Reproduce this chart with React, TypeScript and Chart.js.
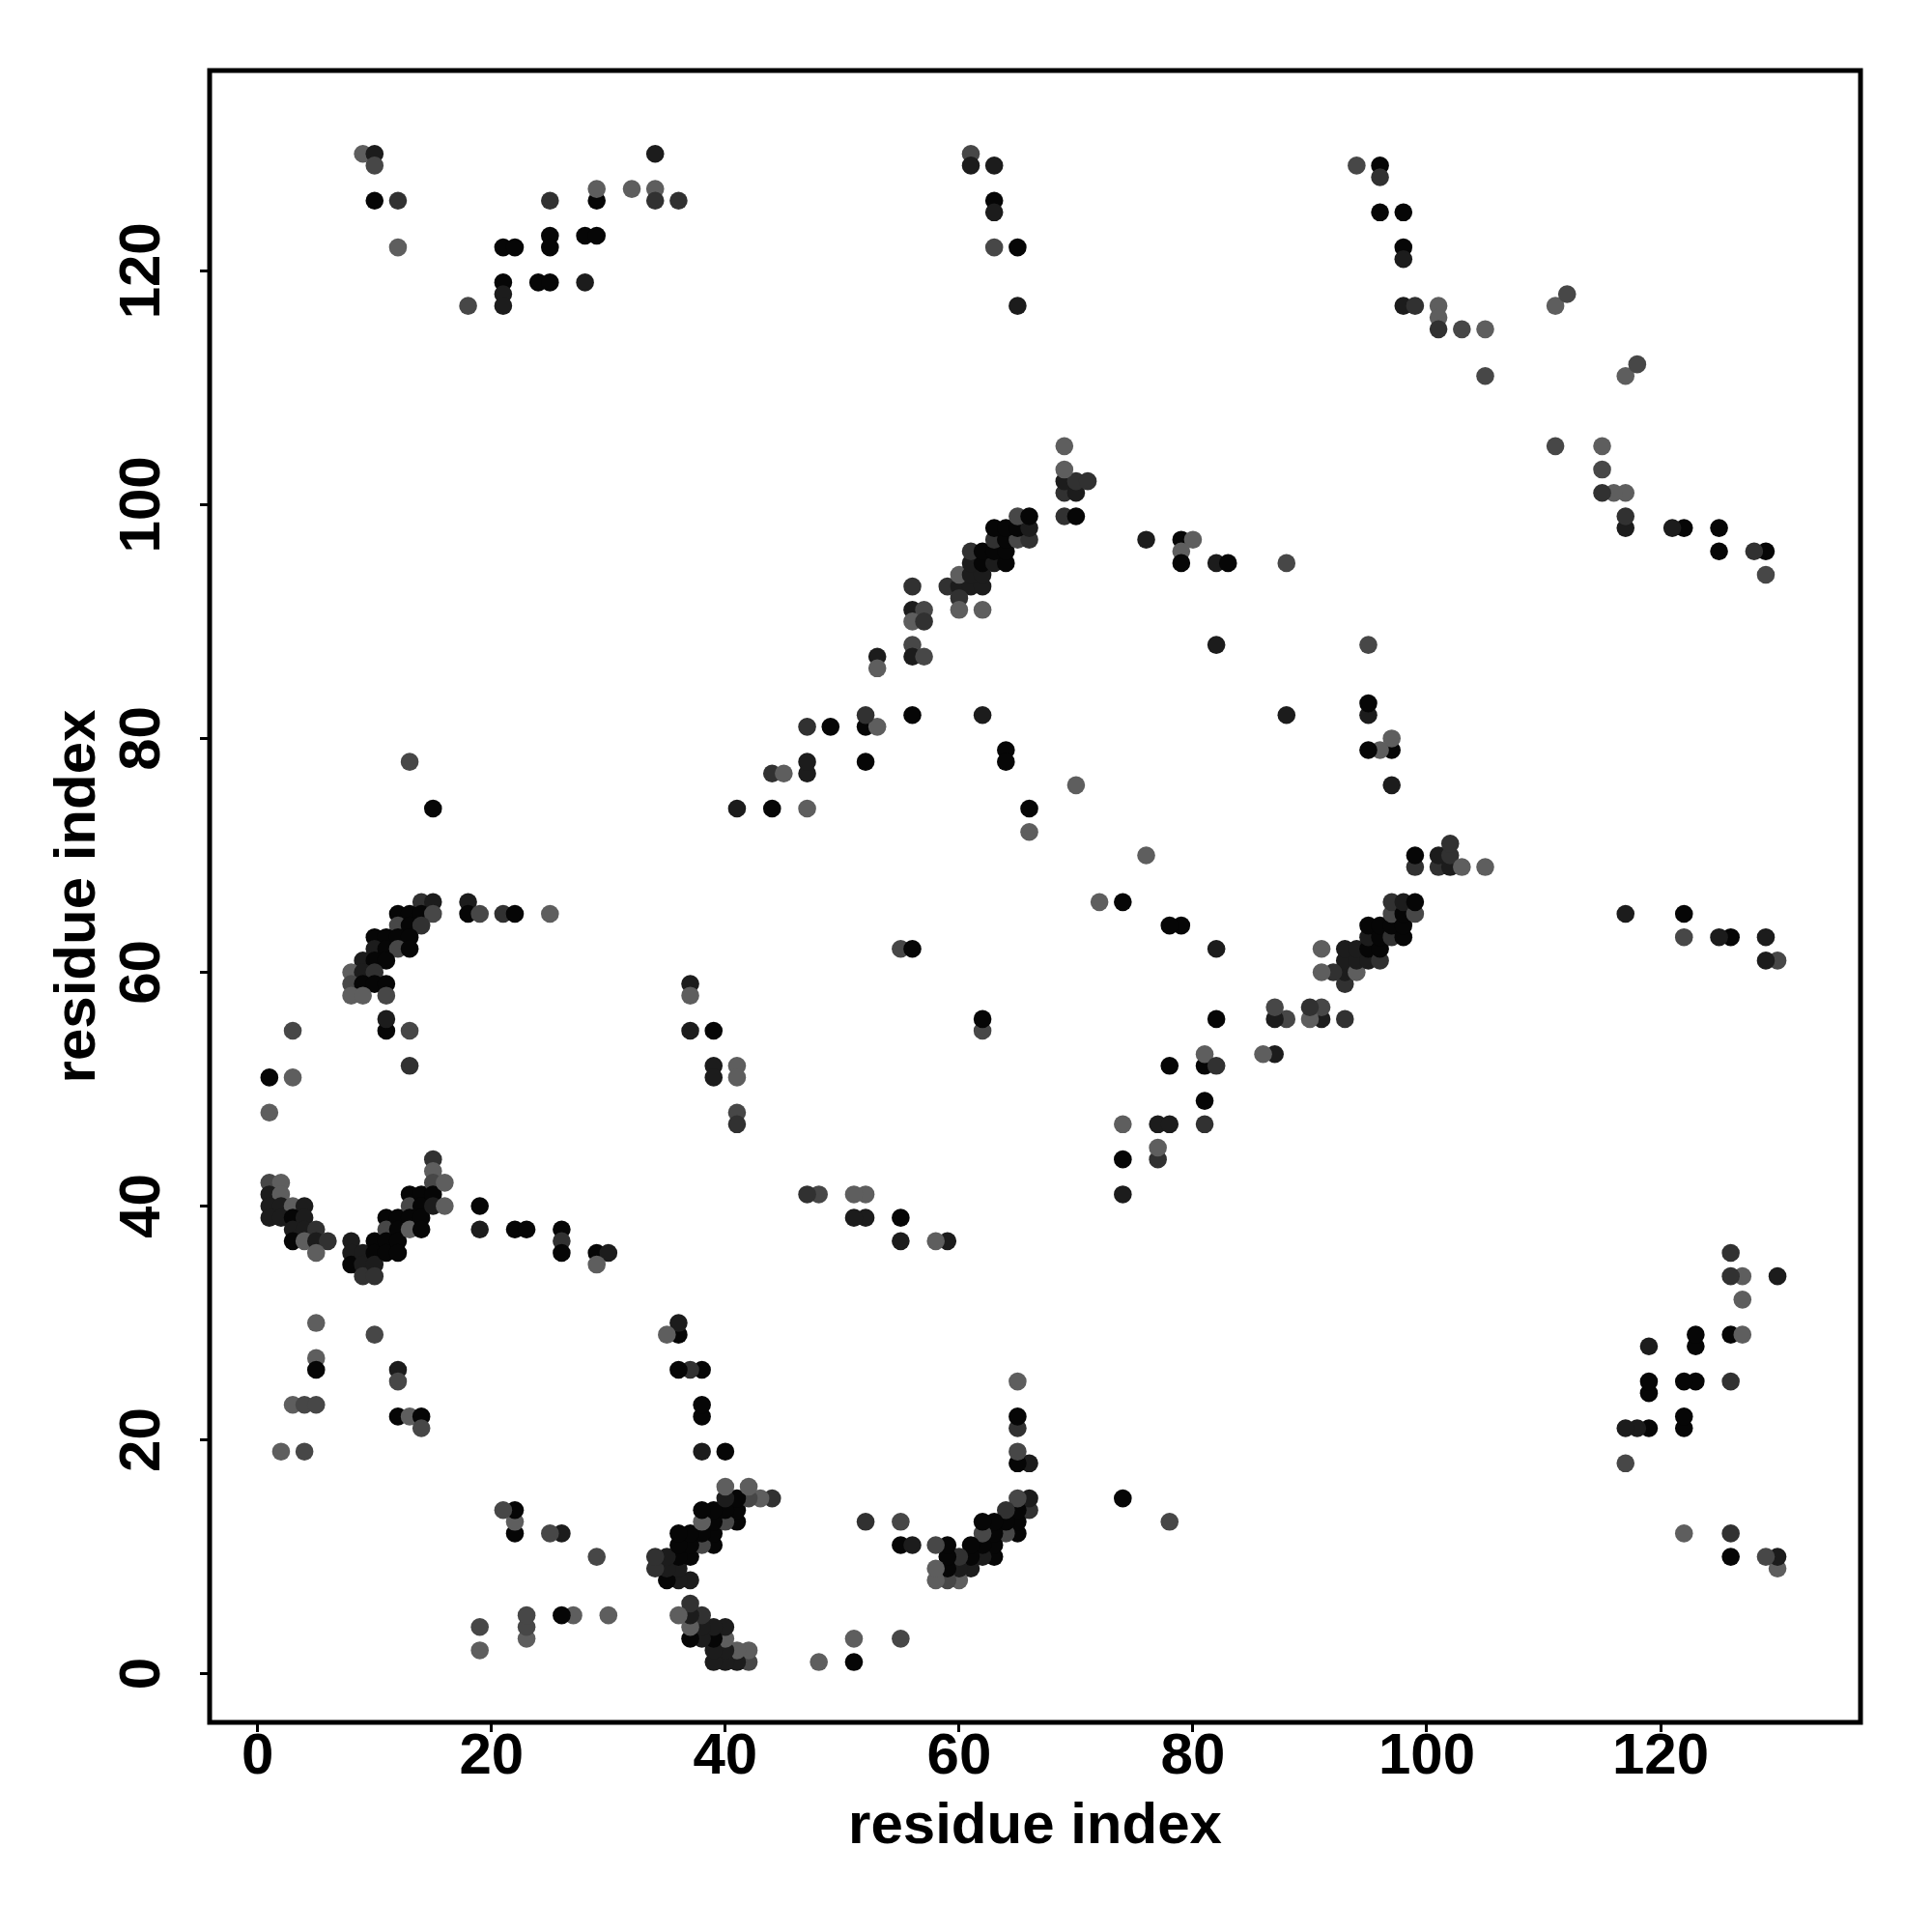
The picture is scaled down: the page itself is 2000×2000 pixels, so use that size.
import React, { useEffect, useRef } from "react";
import { Chart, registerables } from "chart.js";

Chart.register(...registerables);

// grey levels of the points (0 = darkest)
const shades = ["#060606", "#1c1c1c", "#313131", "#474747", "#5e5e5e"];

const axisTicks = [0, 20, 40, 60, 80, 100, 120];

// contacts [residue i, residue j, grey level]; the map is symmetric (j,i) too
const topLeftContacts = [
  [9, 130, 4], [10, 130, 1], [10, 129, 3], [10, 126, 0], [12, 126, 2], [12, 122, 4],
  [18, 117, 3], [21, 122, 0], [22, 122, 0], [21, 119, 0], [21, 118, 1], [21, 117, 1],
  [24, 119, 0], [25, 119, 0], [25, 126, 2], [25, 123, 0], [25, 122, 0], [28, 119, 1],
  [28, 123, 0], [29, 123, 0], [29, 126, 0], [29, 127, 4], [32, 127, 4], [34, 130, 1],
  [34, 127, 4], [34, 126, 2], [36, 126, 2],
];

const midTopContacts = [
  [61, 130, 3], [61, 129, 1], [63, 129, 1], [63, 126, 0], [63, 125, 1], [63, 122, 3],
  [65, 122, 0], [65, 117, 1],
];

const rightTopContacts = [
  [94, 129, 3], [96, 129, 0], [96, 128, 2], [96, 125, 0], [98, 125, 0], [98, 122, 0],
  [98, 121, 1], [98, 117, 1], [99, 117, 2], [101, 117, 4], [101, 116, 4], [101, 115, 2],
  [103, 115, 3], [105, 115, 4], [105, 111, 3], [111, 117, 4], [112, 118, 3],
];

const helixAContacts = [
  [13, 78, 3], [15, 74, 0], [3, 55, 3], [11, 55, 0], [11, 56, 1], [13, 55, 3], [13, 52, 2],
  [1, 51, 0], [3, 51, 4], [1, 48, 4],
  [14, 66, 2], [15, 66, 1], [18, 66, 1], [12, 65, 0], [13, 65, 0], [14, 65, 0], [15, 65, 3],
  [18, 65, 0], [19, 65, 3], [21, 65, 2], [22, 65, 0], [25, 65, 4], [12, 64, 3], [13, 64, 0],
  [14, 64, 2], [10, 63, 0], [11, 63, 0], [12, 63, 0], [13, 63, 0], [10, 62, 1], [11, 62, 0],
  [12, 62, 3], [13, 62, 0], [9, 61, 1], [10, 61, 0], [11, 61, 0], [8, 60, 4], [9, 60, 1],
  [10, 60, 2], [8, 59, 3], [9, 59, 0], [10, 59, 0], [11, 59, 0], [8, 58, 4], [9, 58, 4],
  [11, 58, 3],
];

const helixBContacts = [
  [1, 42, 3], [2, 42, 4], [1, 41, 1], [2, 41, 4], [1, 40, 1], [2, 40, 1], [3, 40, 4],
  [4, 40, 1], [1, 39, 1], [2, 39, 1], [3, 39, 0], [4, 39, 1], [3, 38, 1], [4, 38, 1],
  [5, 38, 2], [3, 37, 0], [4, 37, 4], [5, 37, 1], [6, 37, 2], [5, 36, 4],
  [8, 37, 1], [8, 36, 1], [8, 35, 0], [9, 36, 1], [9, 35, 1], [9, 34, 2], [10, 37, 0],
  [10, 36, 0], [10, 35, 1], [10, 34, 2], [11, 39, 0], [11, 38, 3], [11, 37, 0], [11, 36, 0],
  [12, 39, 0], [12, 38, 0], [12, 37, 0], [12, 36, 0], [13, 41, 0], [13, 40, 3], [13, 39, 0],
  [13, 38, 4], [14, 41, 0], [14, 40, 0], [14, 39, 0], [14, 38, 0], [15, 44, 2], [15, 43, 4],
  [15, 42, 3], [15, 41, 0], [15, 40, 1], [16, 42, 4], [16, 40, 4],
  [19, 40, 0], [19, 38, 1], [22, 38, 0], [23, 38, 0], [26, 38, 0], [26, 37, 2], [26, 36, 0],
  [29, 36, 0], [30, 36, 1], [29, 35, 4],
];

const strandContacts = [
  [37, 59, 1], [37, 58, 4], [37, 55, 1], [39, 55, 0], [39, 52, 1], [39, 51, 1],
  [41, 52, 4], [41, 51, 4], [41, 48, 3], [41, 47, 2],
];

const bandContacts = [
  [41, 74, 1], [44, 74, 0], [47, 74, 4], [44, 77, 2], [45, 77, 4], [47, 77, 1], [47, 78, 1],
  [52, 78, 0], [47, 81, 2], [49, 81, 0], [52, 81, 0], [53, 81, 4], [52, 82, 2], [56, 82, 0],
  [62, 82, 1], [64, 79, 0], [64, 78, 0], [66, 74, 0], [66, 72, 4], [70, 76, 4], [55, 62, 3],
  [56, 62, 0],
  [53, 87, 1], [53, 86, 4], [56, 88, 3], [56, 87, 1], [57, 87, 3], [56, 91, 1], [57, 91, 3],
  [56, 90, 4], [57, 90, 2], [56, 93, 2], [59, 93, 2], [60, 93, 1], [61, 93, 1], [62, 93, 1],
  [60, 92, 2], [60, 91, 4], [62, 91, 4], [60, 94, 4], [61, 94, 1], [62, 94, 1], [61, 95, 1],
  [62, 95, 0], [63, 95, 1], [64, 95, 0], [61, 96, 2], [62, 96, 0], [63, 96, 0], [64, 96, 0],
  [63, 97, 2], [64, 97, 0], [65, 97, 3], [66, 97, 2], [63, 98, 0], [64, 98, 0], [65, 98, 0],
  [66, 98, 1], [65, 99, 3], [66, 99, 0], [69, 99, 2], [70, 99, 0], [69, 101, 2], [70, 101, 1],
  [69, 102, 1], [70, 102, 2], [71, 102, 2], [69, 103, 4], [69, 105, 4],
  [76, 97, 1], [79, 97, 0], [80, 97, 4], [79, 96, 4], [79, 95, 0], [82, 95, 1], [83, 95, 0],
  [88, 95, 3], [82, 88, 1],
];

const lowContacts = [
  [5, 30, 4], [10, 29, 3], [5, 27, 4], [5, 26, 0], [12, 26, 1], [12, 25, 3], [3, 23, 4],
  [4, 23, 3], [5, 23, 3], [12, 22, 0], [13, 22, 4], [14, 22, 0], [14, 21, 3], [2, 19, 4],
  [4, 19, 3],
];

const FONT = "'Liberation Sans', Arial, Helvetica, sans-serif";

const boxPlugin = {
  id: "plotBox",
  afterDraw(chart: any) {
    const { ctx, chartArea } = chart;
    const { left, top, right, bottom } = chartArea;
    ctx.save();
    ctx.lineWidth = 5;
    ctx.strokeStyle = "#000";
    ctx.strokeRect(left, top, right - left, bottom - top);
    ctx.restore();
  },
};

export default function App() {
  const canvasRef = useRef<HTMLCanvasElement | null>(null);

  useEffect(() => {
    if (!canvasRef.current) return;
    const all = [
      ...topLeftContacts,
      ...midTopContacts,
      ...rightTopContacts,
      ...helixAContacts,
      ...helixBContacts,
      ...strandContacts,
      ...bandContacts,
      ...lowContacts,
    ];
    const points: { x: number; y: number }[] = [];
    const colors: string[] = [];
    for (const [i, j, s] of all) {
      points.push({ x: i, y: j });
      colors.push(shades[s]);
      points.push({ x: j, y: i });
      colors.push(shades[s]);
    }

    const setTicks = (scale: any) => {
      scale.ticks = axisTicks.map((v) => ({ value: v }));
    };
    const tickFont = { family: FONT, size: 60, weight: "bold" as const, lineHeight: 1 };
    const grid = {
      display: true,
      drawOnChartArea: false,
      drawTicks: true,
      tickLength: 10,
      lineWidth: 3,
      color: "#000",
    };

    const chart = new Chart(canvasRef.current, {
      type: "scatter",
      data: {
        datasets: [
          {
            data: points,
            pointBackgroundColor: colors,
            pointBorderWidth: 0,
            pointRadius: 9.3,
            pointHoverRadius: 9.3,
            showLine: false,
          },
        ],
      },
      options: {
        animation: false,
        responsive: false,
        devicePixelRatio: 1,
        events: [],
        layout: { padding: { left: 0, top: 73, right: 74, bottom: 0 } },
        plugins: {
          legend: { display: false },
          tooltip: { enabled: false },
        },
        scales: {
          x: {
            type: "linear",
            min: -4.11,
            max: 137.1,
            afterBuildTicks: setTicks,
            afterFit: (s: any) => {
              s.height = 217;
            },
            grid,
            border: { display: false },
            ticks: {
              font: tickFont,
              color: "#000",
              padding: -4,
              minRotation: 0,
              maxRotation: 0,
              autoSkip: false,
            },
            title: {
              display: true,
              text: "residue index",
              color: "#000",
              font: tickFont,
              padding: { top: 0, bottom: 79 },
            },
          },
          y: {
            type: "linear",
            min: -4.16,
            max: 137.13,
            afterBuildTicks: setTicks,
            afterFit: (s: any) => {
              s.width = 217;
            },
            grid,
            border: { display: false },
            ticks: {
              font: tickFont,
              color: "#000",
              padding: 8.5,
              minRotation: 90,
              maxRotation: 90,
              crossAlign: "center",
              autoSkip: false,
            },
            title: {
              display: true,
              text: "residue index",
              color: "#000",
              font: tickFont,
              padding: { top: 51, bottom: 0 },
            },
          },
        },
      },
      plugins: [boxPlugin],
    });
    return () => chart.destroy();
  }, []);

  return (
    <div style={{ position: "absolute", left: 0, top: 0, width: 2000, height: 2000, background: "#fff" }}>
      <canvas ref={canvasRef} width={2000} height={2000} style={{ width: 2000, height: 2000 }} />
    </div>
  );
}
